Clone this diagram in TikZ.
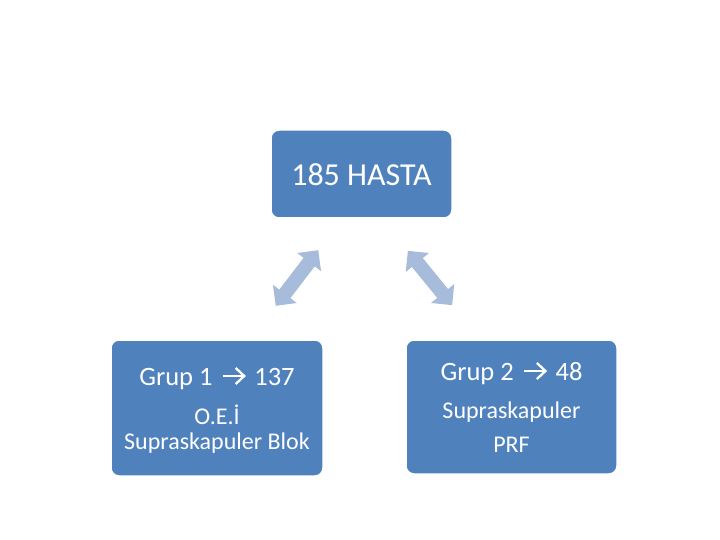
\documentclass[tikz,border=0pt]{standalone}
\usepackage{fontspec}
\setmainfont{Carlito}
\definecolor{boxblue}{RGB}{79,129,189}
\definecolor{arrowblue}{RGB}{167,188,218}
\newcommand{\wdarrow}{\hspace{3pt}\tikz[baseline=0pt,x=1pt,y=1pt]{\draw[white,line width=2.3pt,line cap=butt] (0,9)--(21,9); \draw[white,line width=2.3pt,line join=miter] (13,1)--(21.5,9)--(13,17);}\hspace{3pt}}
\begin{document}
\begin{tikzpicture}[x=1pt,y=-1pt,
  box/.style={draw=white,line width=1.5pt,fill=boxblue,rounded corners=8pt},
  txt/.style={anchor=base,text=white,inner sep=0pt},
  bigtxt/.style={txt,font=\fontsize{32}{38}\selectfont},
  midtxt/.style={txt,font=\fontsize{26.5}{32}\selectfont},
  smalltxt/.style={txt,font=\fontsize{24}{29}\selectfont},
  blockarrow/.style={fill=arrowblue}]
\useasboundingbox (0,0) rectangle (720,540);
% boxes
\node[box,minimum width=181pt,minimum height=88pt] (top) at (361.5,174) {};
\node[box,minimum width=212pt,minimum height=136pt] (left) at (217,408) {};
\node[box,minimum width=211pt,minimum height=134pt] (right) at (511.5,407) {};
% texts
\node[bigtxt] (toptxt) at (361.5,186) {185 HASTA};
\node[midtxt] (l1) at (217,385) {Grup 1 \wdarrow{} 137};
\node[smalltxt] (l2) at (217,424) {O.E.İ};
\node[smalltxt] (l3) at (217,449) {Supraskapuler Blok};
\node[midtxt] (r1) at (511.5,380) {Grup 2 \wdarrow{} 48};
\node[smalltxt] (r2) at (511.5,418) {Supraskapuler};
\node[smalltxt] (r3) at (511.5,452) {PRF};
% double block arrows
\begin{scope}[shift={(297,278)},rotate=52.6]
\fill[blockarrow] (-35,0)--(-20,15)--(-20,7)--(20,7)--(20,15)--(35,0)--(20,-15)--(20,-7)--(-20,-7)--(-20,-15)--cycle;
\end{scope}
\begin{scope}[shift={(430,278)},rotate=-50.8]
\fill[blockarrow] (-35,0)--(-20,15)--(-20,7)--(20,7)--(20,15)--(35,0)--(20,-15)--(20,-7)--(-20,-7)--(-20,-15)--cycle;
\end{scope}
\end{tikzpicture}
\end{document}
